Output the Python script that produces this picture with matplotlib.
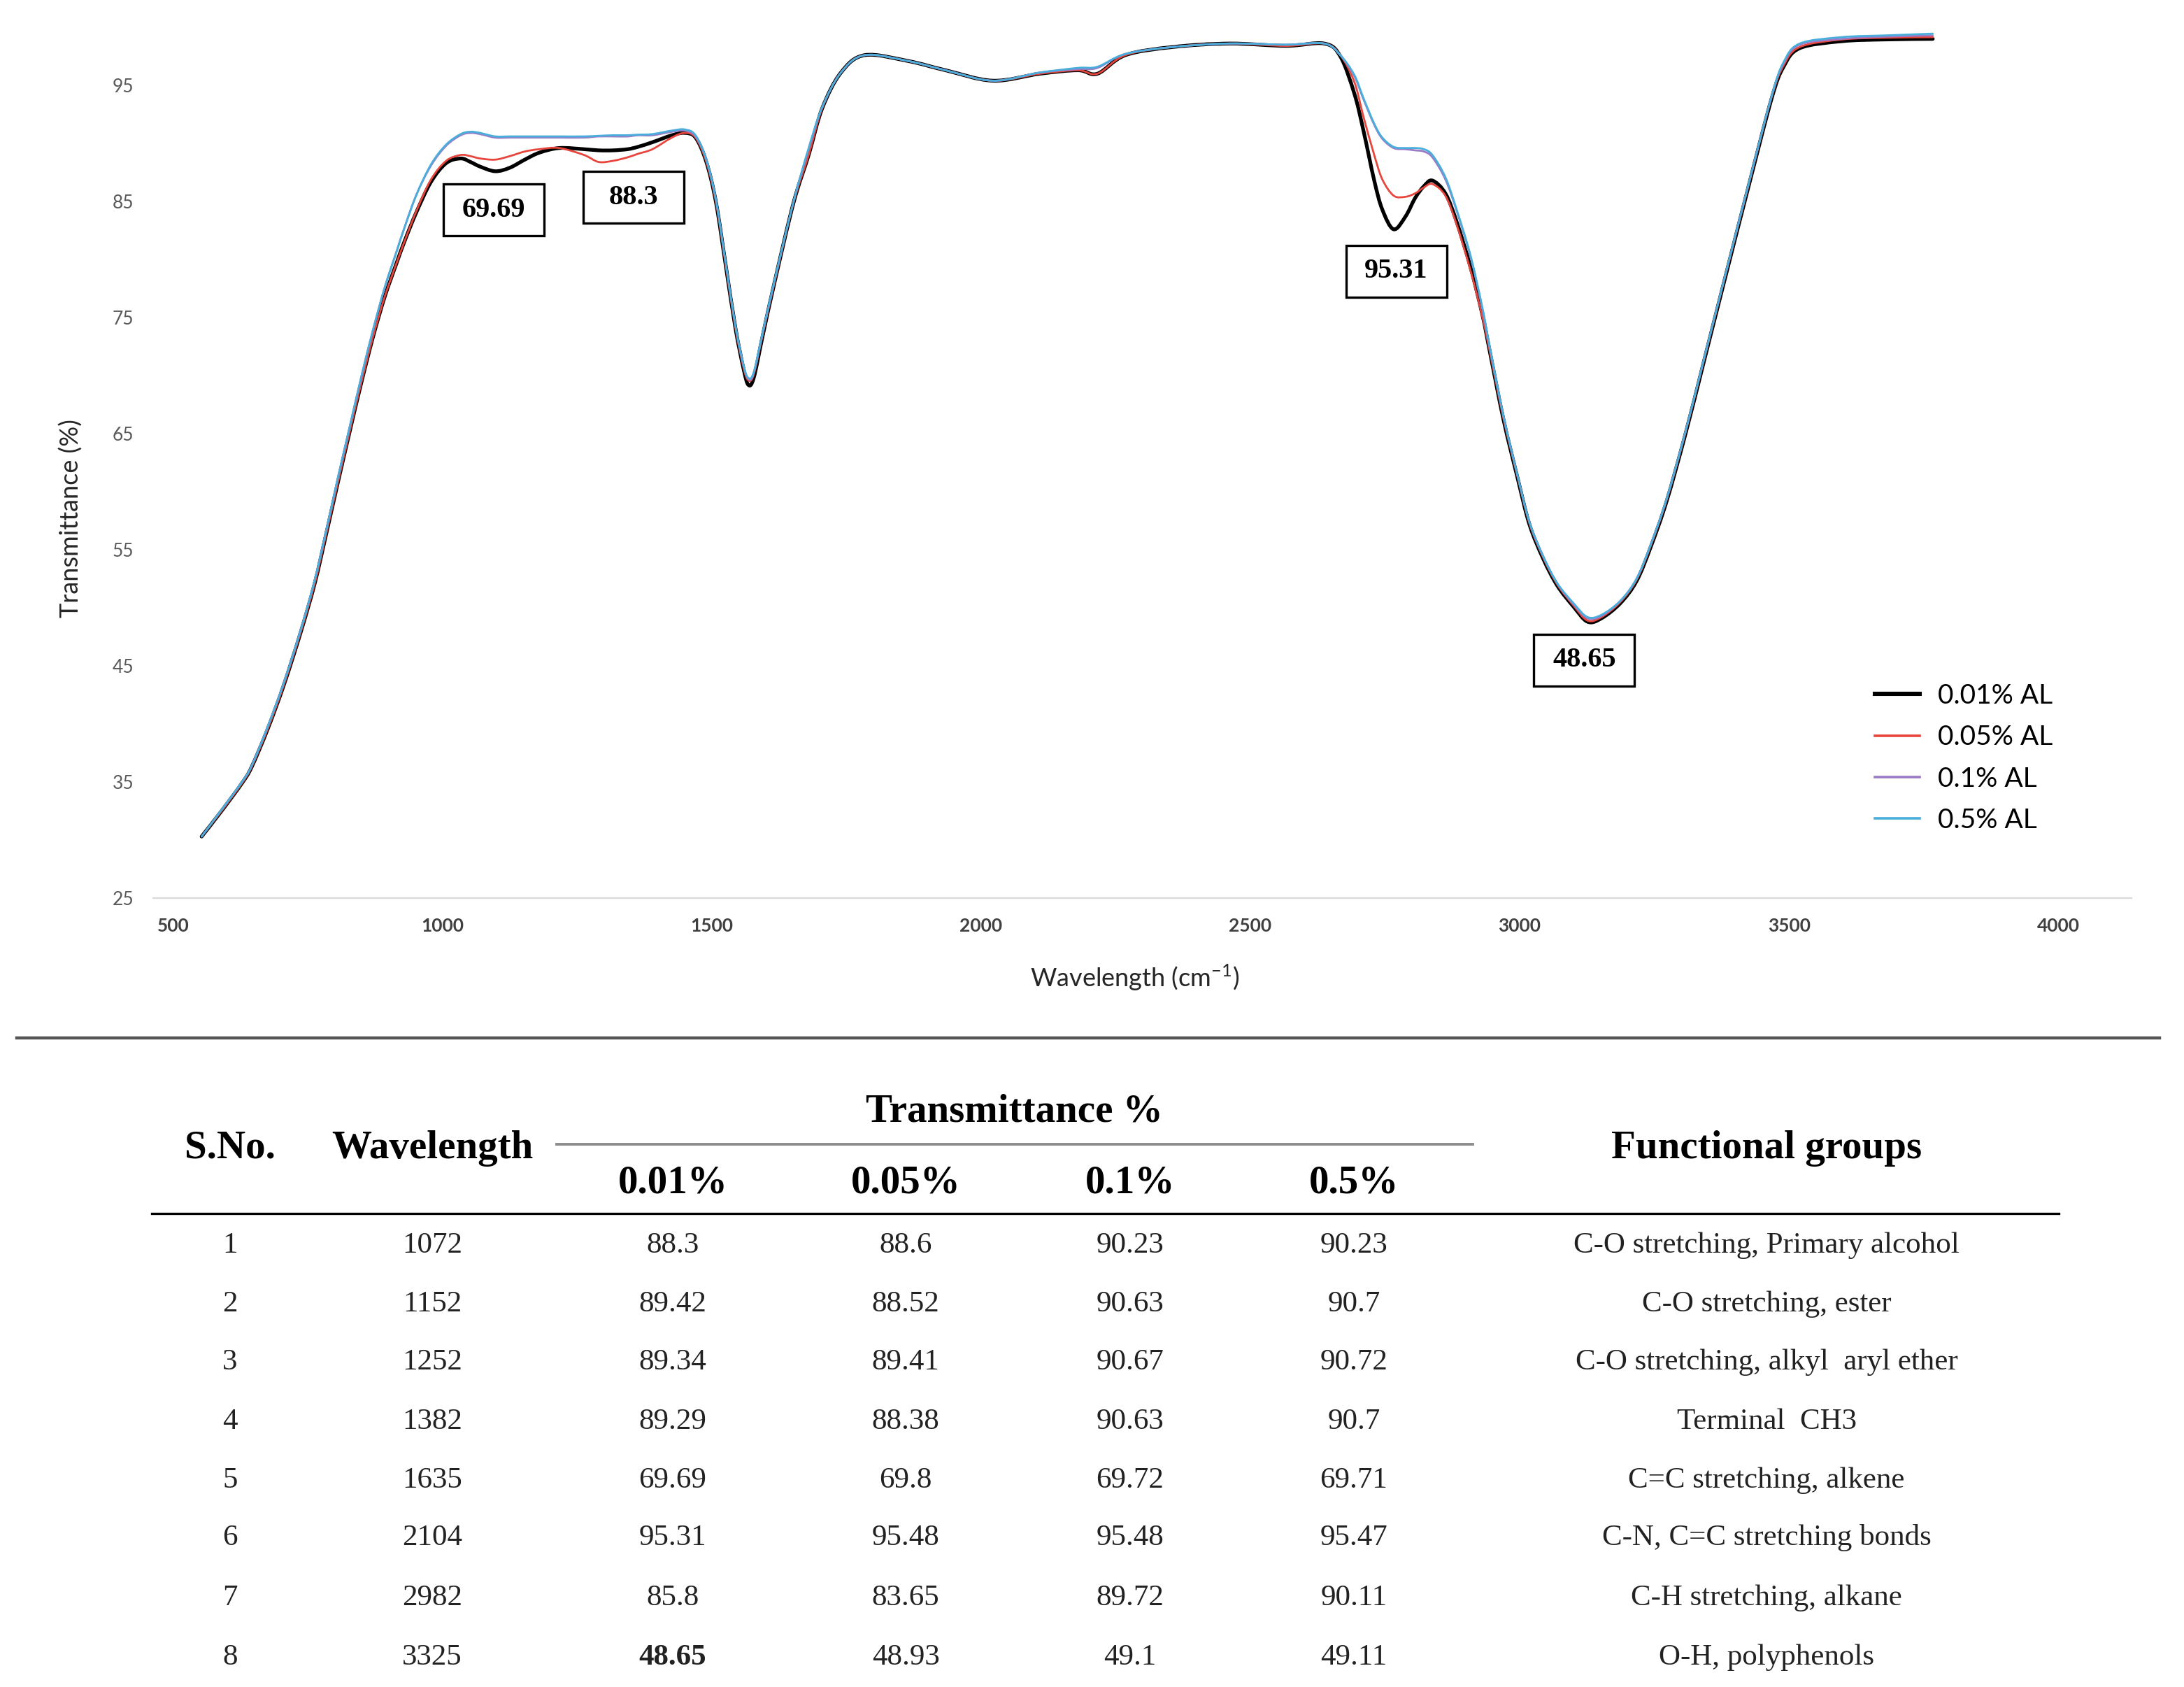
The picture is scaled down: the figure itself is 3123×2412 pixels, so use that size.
import matplotlib
matplotlib.use("Agg")
import matplotlib.pyplot as plt
import numpy as np
from matplotlib.patches import Rectangle, PathPatch
from matplotlib.path import Path
from matplotlib.lines import Line2D

plt.rcParams['font.family'] = ['Lato', 'DejaVu Sans']
plt.rcParams['mathtext.fontset'] = 'custom'
plt.rcParams['mathtext.rm'] = 'Lato'

# spectrum (wavenumber cm-1, transmittance %)
wn = [553, 590, 628, 646, 676, 706, 737, 763, 784, 806, 828, 849, 871, 893, 915,
      930, 952, 979, 1007, 1034, 1052, 1070, 1098, 1125, 1153, 1180, 1217, 1263,
      1290, 1317, 1344, 1363, 1390, 1426, 1450, 1470, 1490, 1508, 1526, 1544,
      1559, 1568, 1578, 1595, 1617, 1652, 1680, 1705, 1740, 1784, 1864, 1934,
      2022, 2109, 2180, 2216, 2268, 2356, 2461, 2566, 2637, 2667, 2693, 2710,
      2730, 2745, 2766, 2788, 2806, 2822, 2838, 2862, 2883, 2909, 2931, 2944,
      2970, 2996, 3018, 3044, 3070, 3100, 3126, 3152, 3187, 3217, 3243, 3273,
      3308, 3342, 3377, 3425, 3468, 3490, 3520, 3598, 3680, 3767]

t_001 = [30.3, 32.5, 34.9, 36.3, 39.6, 43.4, 47.9, 52.1, 56.3, 60.8, 65.2, 69.3, 73.3, 76.8, 79.7,
         81.6, 84.1, 86.7, 88.3, 88.7, 88.4, 88.0, 87.6, 87.9, 88.6, 89.2, 89.6, 89.5,
         89.4, 89.4, 89.5, 89.7, 90.1, 90.7, 90.9, 90.5, 88.4, 84.9, 79.5, 74.1,
         70.6, 69.2, 69.8, 73.5, 78.1, 84.9, 89.0, 93.0, 96.1, 97.6, 97.1, 96.3,
         95.4, 96.0, 96.3, 96.0, 97.6, 98.3, 98.6, 98.4, 98.6, 97.5, 94.3, 91.1,
         86.8, 84.3, 82.6, 83.7, 85.3, 86.3, 86.8, 85.7, 83.25, 79.3, 75.2, 72.2,
         66.2, 61.2, 57.2, 54.2, 51.9, 50.1, 48.8, 49.1, 50.4, 52.3, 55.2, 59.2,
         65.0, 71.2, 77.6, 86.3, 93.9, 96.6, 98.2, 98.8, 98.95, 99.0]

t_005 = [30.3, 32.5, 34.9, 36.3, 39.6, 43.4, 47.9, 52.1, 56.3, 60.8, 65.2, 69.3, 73.3, 76.8, 79.7,
         81.6, 84.2, 86.9, 88.5, 89.0, 88.9, 88.7, 88.6, 88.9, 89.3, 89.5, 89.6, 89.0,
         88.4, 88.5, 88.8, 89.1, 89.5, 90.5, 90.9, 90.5, 88.4, 84.9, 79.5, 74.1,
         70.7, 69.6, 70.1, 73.6, 78.1, 84.9, 89.0, 93.0, 96.1, 97.6, 97.1, 96.3,
         95.4, 96.0, 96.3, 96.0, 97.6, 98.3, 98.6, 98.4, 98.6, 97.6, 95.3, 92.3,
         89.0, 86.9, 85.5, 85.4, 85.7, 86.2, 86.5, 85.5, 83.0, 79.0, 75.0, 72.2,
         66.3, 61.3, 57.3, 54.3, 52.0, 50.2, 48.9, 49.2, 50.5, 52.4, 55.3, 59.3,
         65.1, 71.3, 77.7, 86.4, 94.0, 96.7, 98.3, 98.95, 99.1, 99.15]

t_01 = [30.3, 32.6, 35.0, 36.4, 39.8, 43.6, 48.1, 52.4, 56.6, 61.2, 65.6, 69.8, 73.9, 77.6, 80.7,
        82.8, 85.6, 88.1, 89.8, 90.7, 90.9, 90.8, 90.5, 90.5, 90.5, 90.5, 90.5, 90.5,
        90.6, 90.6, 90.6, 90.7, 90.7, 91.0, 91.1, 90.6, 88.6, 85.1, 79.7, 74.3,
        70.9, 69.7, 70.2, 73.7, 78.2, 85.0, 89.5, 93.1, 96.1, 97.6, 97.1, 96.3,
        95.4, 96.1, 96.4, 96.5, 97.7, 98.3, 98.6, 98.5, 98.6, 97.6, 95.8, 93.8,
        91.6, 90.4, 89.6, 89.5, 89.4, 89.3, 88.8, 86.9, 84.2, 80.2, 75.7, 72.5,
        66.5, 61.4, 57.4, 54.4, 52.1, 50.3, 49.1, 49.3, 50.6, 52.5, 55.4, 59.4,
        65.2, 71.4, 77.8, 86.5, 94.1, 96.9, 98.5, 99.0, 99.2, 99.3]

t_05 = [30.3, 32.6, 35.0, 36.4, 39.8, 43.6, 48.1, 52.4, 56.6, 61.2, 65.6, 69.8, 73.9, 77.6, 80.7,
        82.8, 85.6, 88.2, 89.9, 90.8, 91.0, 90.9, 90.6, 90.6, 90.6, 90.6, 90.6, 90.6,
        90.65, 90.7, 90.7, 90.75, 90.8, 91.1, 91.2, 90.7, 88.6, 85.1, 79.7, 74.3,
        70.9, 69.8, 70.3, 73.8, 78.3, 85.0, 89.6, 93.1, 96.1, 97.6, 97.1, 96.3,
        95.4, 96.1, 96.5, 96.6, 97.7, 98.3, 98.6, 98.5, 98.6, 97.6, 95.9, 93.9,
        91.7, 90.5, 89.7, 89.6, 89.6, 89.5, 89.0, 87.1, 84.3, 80.3, 75.8, 72.6,
        66.5, 61.4, 57.4, 54.4, 52.1, 50.4, 49.2, 49.4, 50.6, 52.5, 55.4, 59.4,
        65.2, 71.4, 77.8, 86.5, 94.1, 97.0, 98.6, 99.15, 99.3, 99.45]

series_labels = ["0.01% AL", "0.05% AL", "0.1% AL", "0.5% AL"]
series_colors = ["#000000", "#E8453C", "#9A7CC6", "#4AAEDC"]
series_widths = [1.9, 1.0, 1.0, 1.0]

# boxed peak labels: (text, wavenumber, transmittance)
box_texts = ["69.69", "88.3", "95.31", "48.65"]
box_x = [1095, 1355, 2771, 3120]
box_y = [84.25, 85.36, 79.0, 45.5]

# table
tbl_sno = ["1", "2", "3", "4", "5", "6", "7", "8"]
tbl_wave = ["1072", "1152", "1252", "1382", "1635", "2104", "2982", "3325"]
tbl_c001 = ["88.3", "89.42", "89.34", "89.29", "69.69", "95.31", "85.8", "48.65"]
tbl_c005 = ["88.6", "88.52", "89.41", "88.38", "69.8", "95.48", "83.65", "48.93"]
tbl_c01 = ["90.23", "90.63", "90.67", "90.63", "69.72", "95.48", "89.72", "49.1"]
tbl_c05 = ["90.23", "90.7", "90.72", "90.7", "69.71", "95.47", "90.11", "49.11"]
tbl_groups = ["C-O stretching, Primary alcohol", "C-O stretching, ester",
              "C-O stretching, alkyl  aryl ether", "Terminal  CH3",
              "C=C stretching, alkene", "C-N, C=C stretching bonds",
              "C-H stretching, alkane", "O-H, polyphenols"]

W, H = 3123, 2412


def fx(px):
    return px / W


def fy(py):
    return 1 - py / H


def smooth_line(xs, ys):
    # excel-like "smoothed line": bezier segments through the read points
    pts = np.column_stack([xs, ys]).astype(float)
    n = len(pts)
    verts = [pts[0]]
    codes = [Path.MOVETO]
    for i in range(n - 1):
        p0 = pts[i - 1] if i > 0 else pts[i]
        p1, p2 = pts[i], pts[i + 1]
        p3 = pts[i + 2] if i + 2 < n else pts[i + 1]
        verts += [p1 + (p2 - p0) / 6, p2 - (p3 - p1) / 6, p2]
        codes += [Path.CURVE4] * 3
    return Path(verts, codes)


fig = plt.figure(figsize=(W / 200, H / 200), dpi=200)
ax = fig.add_axes([fx(219), fy(1284), fx(3048) - fx(219), fy(30.7) - fy(1284)])

handles = []
for ys, lab, col, lw in zip([t_001, t_005, t_01, t_05], series_labels, series_colors, series_widths):
    ax.add_patch(PathPatch(smooth_line(wn, ys), fill=False, edgecolor=col, lw=lw,
                           joinstyle="round", capstyle="round"))
    handles.append(Line2D([], [], color=col, lw=lw + 0.3, label=lab))

ax.set_xlim(463, 4136)
ax.set_ylim(25, 100.5)
ax.set_xticks([500, 1000, 1500, 2000, 2500, 3000, 3500, 4000])
ax.set_yticks([25, 35, 45, 55, 65, 75, 85, 95])
ax.tick_params(axis="both", length=0, pad=10)
for t in ax.get_xticklabels():
    t.set_fontweight("bold")
    t.set_fontsize(9.5)
    t.set_color("#404040")
for t in ax.get_yticklabels():
    t.set_fontsize(9.5)
    t.set_color("#595959")
for s in ["left", "top", "right"]:
    ax.spines[s].set_visible(False)
ax.spines["bottom"].set_color("#D9D9D9")
ax.spines["bottom"].set_linewidth(0.8)

# peak label boxes
bw, bh = 187, 4.46
for txt, x, y in zip(box_texts, box_x, box_y):
    ax.add_patch(Rectangle((x - bw / 2, y - bh / 2), bw, bh, facecolor="white",
                           edgecolor="black", lw=1.2, zorder=5))
    ax.text(x, y, txt, ha="center", va="center", fontsize=14.5, fontweight="bold",
            family="Liberation Serif", zorder=6)

fig.text(fx(1623), fy(1398), "Wavelength (cm$^{-1}$)", ha="center", va="center",
         fontsize=13, color="#262626")
fig.text(fx(102), fy(741), "Transmittance (%)", ha="center", va="center",
         rotation=90, fontsize=13, color="#262626")

ax.legend(handles=handles, loc="center left", bbox_to_anchor=(fx(2646), fy(1084)),
          bbox_transform=fig.transFigure, frameon=False, fontsize=14,
          handlelength=1.64, handletextpad=0.67, labelspacing=0.6)

# separator between chart and table
fig.add_artist(Line2D([fx(24), fx(3088)], [fy(1484), fy(1484)], color="#555555", lw=1.6))

# table
serif = "Liberation Serif"
hdr = dict(ha="center", va="center", fontsize=20.5, fontweight="bold", family=serif)
fig.text(fx(1450), fy(1590), "Transmittance %", **hdr)
fig.text(fx(329), fy(1642), "S.No.", **hdr)
fig.text(fx(618), fy(1642), "Wavelength", **hdr)
fig.text(fx(2526), fy(1642), "Functional groups", **hdr)
col_x = [962, 1295, 1616, 1936]
for x, lab in zip(col_x, ["0.01%", "0.05%", "0.1%", "0.5%"]):
    fig.text(fx(x), fy(1692), lab, **hdr)
fig.add_artist(Line2D([fx(796), fx(2106)], [fy(1636), fy(1636)], color="#8C8C8C", lw=1.4))
fig.add_artist(Line2D([fx(217), fx(2944)], [fy(1735), fy(1735)], color="black", lw=1.2))

row_y = [1781, 1865, 1948, 2033, 2117, 2199, 2285, 2370]
cell = dict(ha="center", va="center", fontsize=15.5, family=serif, color="#222222")
for i, y in enumerate(row_y):
    fig.text(fx(329), fy(y), tbl_sno[i], **cell)
    fig.text(fx(618), fy(y), tbl_wave[i], **cell)
    for x, col in zip(col_x, [tbl_c001, tbl_c005, tbl_c01, tbl_c05]):
        w = "bold" if (col is tbl_c001 and i == 7) else "normal"
        fig.text(fx(x), fy(y), col[i], fontweight=w, **cell)
    fig.text(fx(2526), fy(y), tbl_groups[i], **cell)

fig.savefig("out.png", dpi=200)
